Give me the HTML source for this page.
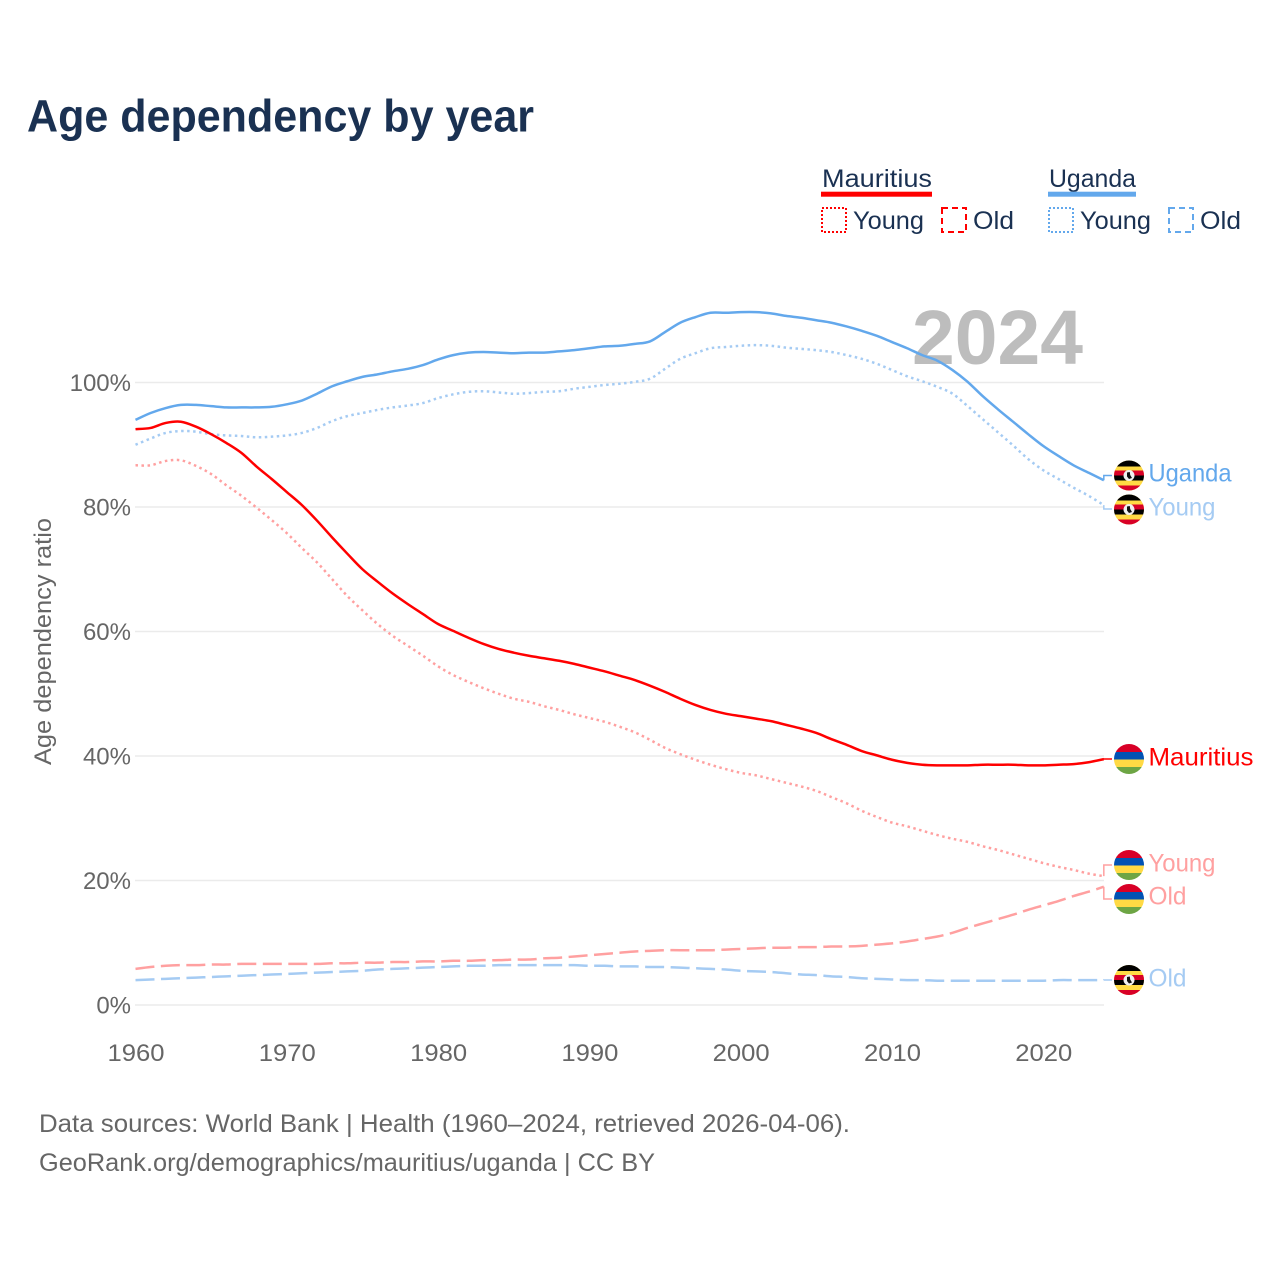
<!DOCTYPE html>
<html lang="en">
<head>
<meta charset="utf-8">
<title>Age dependency by year</title>
<style>
html,body{margin:0;padding:0;background:#fff;}
svg{display:block;font-family:"Liberation Sans",sans-serif;}
</style>
</head>
<body>
<svg id="chart" xmlns="http://www.w3.org/2000/svg" width="1280" height="1280" viewBox="0 0 1280 1280">
<defs>
  <clipPath id="flag-clip"><circle cx="0" cy="0" r="15"/></clipPath>
  <g id="flag-uganda" clip-path="url(#flag-clip)">
    <rect x="-15" y="-15" width="30" height="30" fill="#ffda44"/>
    <rect x="-15" y="-15" width="30" height="6" fill="#000"/>
    <rect x="-15" y="-5" width="30" height="5" fill="#d80027"/>
    <rect x="-15" y="0" width="30" height="5" fill="#000"/>
    <rect x="-15" y="10" width="30" height="5" fill="#d80027"/>
    <circle cx="0" cy="0" r="5.5" fill="#f0f0f0"/>
    <path d="M-2-3 L0.8-3.500 L1.200-0.500 L3 2.500 L0 3.500 L-2 1 Z" fill="#111"/>
  </g>
  <g id="flag-mauritius" clip-path="url(#flag-clip)">
    <rect x="-15" y="-15" width="30" height="8" fill="#d80027"/>
    <rect x="-15" y="-7" width="30" height="7.5" fill="#0052b4"/>
    <rect x="-15" y="0.5" width="30" height="7.5" fill="#ffda44"/>
    <rect x="-15" y="8" width="30" height="7" fill="#6da544"/>
  </g>
</defs>

<text x="27" y="131.500" font-size="45" font-weight="700" fill="#1a3152" textLength="507" lengthAdjust="spacingAndGlyphs">Age dependency by year</text>

<g font-size="25" fill="#1a3152">
  <g>
    <text x="822" y="187" textLength="110" lengthAdjust="spacingAndGlyphs">Mauritius</text>
    <rect x="821" y="191.700" width="111" height="5" fill="#ff0000"/>
    <rect x="822" y="208" width="24" height="24" fill="none" stroke="#ff0000" stroke-width="2" stroke-dasharray="2 2"/>
    <text x="853" y="229" textLength="71" lengthAdjust="spacingAndGlyphs">Young</text>
    <rect x="942" y="208" width="24" height="24" fill="none" stroke="#ff0000" stroke-width="2" stroke-dasharray="6 4"/>
    <text x="973" y="229" textLength="41" lengthAdjust="spacingAndGlyphs">Old</text>
  </g>
  <g>
    <text x="1049" y="187" textLength="87" lengthAdjust="spacingAndGlyphs">Uganda</text>
    <rect x="1048" y="191.700" width="88" height="5" fill="#63a8ec"/>
    <rect x="1049" y="208" width="24" height="24" fill="none" stroke="#63a8ec" stroke-width="2" stroke-dasharray="2 2"/>
    <text x="1080" y="229" textLength="71" lengthAdjust="spacingAndGlyphs">Young</text>
    <rect x="1169" y="208" width="24" height="24" fill="none" stroke="#63a8ec" stroke-width="2" stroke-dasharray="6 4"/>
    <text x="1200" y="229" textLength="41" lengthAdjust="spacingAndGlyphs">Old</text>
  </g>
</g>

<g id="grid"></g>
<text x="912" y="364" font-size="77" font-weight="700" fill="#bdbdbd" textLength="171" lengthAdjust="spacingAndGlyphs">2024</text>
<g id="y-ticks" font-size="24" fill="#666" text-anchor="end"></g>
<g id="x-ticks" font-size="24" fill="#666" text-anchor="middle"></g>
<text transform="translate(51 765) rotate(-90)" font-size="24" fill="#666" textLength="247" lengthAdjust="spacingAndGlyphs">Age dependency ratio</text>
<g id="series"></g>

<g font-size="25">
  <g>
    <use href="#flag-uganda" transform="translate(1129 475.500)"/>
    <text x="1148.500" y="481.500" fill="#63a8ec" textLength="83" lengthAdjust="spacingAndGlyphs">Uganda</text>
  </g>
  <g>
    <use href="#flag-uganda" transform="translate(1129 509.500)"/>
    <text x="1148.500" y="515.500" fill="#a5cbf3" textLength="67" lengthAdjust="spacingAndGlyphs">Young</text>
  </g>
  <g>
    <use href="#flag-mauritius" transform="translate(1129 759)"/>
    <text x="1148.500" y="765.500" fill="#ff0000" textLength="105" lengthAdjust="spacingAndGlyphs">Mauritius</text>
  </g>
  <g>
    <use href="#flag-mauritius" transform="translate(1129 865)"/>
    <text x="1148.500" y="871.500" fill="#ffa0a0" textLength="67" lengthAdjust="spacingAndGlyphs">Young</text>
  </g>
  <g>
    <use href="#flag-mauritius" transform="translate(1129 899)"/>
    <text x="1148.500" y="904.500" fill="#ffa0a0" textLength="38" lengthAdjust="spacingAndGlyphs">Old</text>
  </g>
  <g>
    <use href="#flag-uganda" transform="translate(1129 980)"/>
    <text x="1148.500" y="986.500" fill="#a5cbf3" textLength="38" lengthAdjust="spacingAndGlyphs">Old</text>
  </g>
</g>

<g font-size="25" fill="#666">
  <text x="39" y="1132" textLength="811" lengthAdjust="spacingAndGlyphs">Data sources: World Bank | Health (1960–2024, retrieved 2026-04-06).</text>
  <text x="39" y="1171" textLength="616" lengthAdjust="spacingAndGlyphs">GeoRank.org/demographics/mauritius/uganda | CC BY</text>
</g>
</svg>

<script>
const firstYear = 1960;
const yearTicks = [1960, 1970, 1980, 1990, 2000, 2010, 2020];
const percentTicks = [0, 20, 40, 60, 80, 100];

const ugandaTotal = [
  94.0, 95.1, 95.9, 96.4, 96.4, 96.2, 96.0, 96.0, 96.0, 96.1,
  96.5, 97.1, 98.2, 99.4, 100.2, 100.9, 101.3, 101.8, 102.2, 102.8,
  103.7, 104.4, 104.8, 104.9, 104.8, 104.7, 104.8, 104.8, 105.0, 105.2,
  105.5, 105.8, 105.9, 106.2, 106.6, 108.1, 109.6, 110.5, 111.2, 111.2,
  111.3, 111.3, 111.1, 110.7, 110.4, 110.0, 109.6, 109.0, 108.3, 107.5,
  106.5, 105.5, 104.4, 103.5, 102.0, 100.1, 97.8, 95.7, 93.7, 91.7,
  89.8, 88.2, 86.7, 85.5, 84.3
];
const ugandaYoung = [
  90.0, 91.0, 91.9, 92.2, 92.1, 91.7, 91.5, 91.4, 91.2, 91.3,
  91.5, 91.9, 92.7, 93.8, 94.6, 95.1, 95.6, 96.0, 96.3, 96.7,
  97.5, 98.1, 98.5, 98.6, 98.4, 98.2, 98.3, 98.5, 98.6, 99.0,
  99.3, 99.6, 99.8, 100.1, 100.6, 102.2, 103.8, 104.7, 105.5, 105.7,
  105.9, 106.0, 105.9, 105.6, 105.4, 105.2, 104.9, 104.4, 103.8, 103.0,
  102.0, 101.0, 100.2, 99.3, 98.2, 96.2, 94.1, 92.0, 89.9, 87.7,
  85.9, 84.5, 83.1, 81.8, 80.3
];
const ugandaOld = [
  4.0, 4.1, 4.2, 4.3, 4.4, 4.5, 4.6, 4.7, 4.8, 4.9,
  5.0, 5.1, 5.2, 5.3, 5.4, 5.5, 5.7, 5.8, 5.9, 6.0,
  6.1, 6.2, 6.3, 6.3, 6.4, 6.4, 6.4, 6.4, 6.4, 6.4,
  6.3, 6.3, 6.2, 6.2, 6.1, 6.1, 6.0, 5.9, 5.8, 5.7,
  5.5, 5.4, 5.3, 5.1, 4.9, 4.8, 4.6, 4.5, 4.3, 4.2,
  4.1, 4.0, 4.0, 3.9, 3.9, 3.9, 3.9, 3.9, 3.9, 3.9,
  3.9, 4.0, 4.0, 4.0, 4.0
];
const mauritiusTotal = [
  92.5, 92.7, 93.5, 93.7, 92.9, 91.7, 90.3, 88.7, 86.5, 84.5,
  82.4, 80.3, 77.8, 75.1, 72.5, 70.0, 68.0, 66.1, 64.4, 62.8,
  61.2, 60.1, 59.0, 58.0, 57.2, 56.6, 56.1, 55.7, 55.3, 54.8,
  54.2, 53.6, 52.9, 52.2, 51.3, 50.3, 49.2, 48.2, 47.4, 46.8,
  46.4, 46.0, 45.6, 45.0, 44.4, 43.7, 42.7, 41.8, 40.8, 40.1,
  39.4, 38.9, 38.6, 38.5, 38.5, 38.5, 38.6, 38.6, 38.6, 38.5,
  38.5, 38.6, 38.7, 39.0, 39.5
];
const mauritiusYoung = [
  86.7, 86.7, 87.4, 87.5, 86.6, 85.3, 83.5, 81.8, 79.9, 77.9,
  75.8, 73.4, 71.1, 68.4, 65.7, 63.4, 61.2, 59.3, 57.7, 56.1,
  54.4, 53.0, 51.9, 50.9, 50.0, 49.2, 48.7, 48.0, 47.4, 46.7,
  46.1, 45.5, 44.7, 43.8, 42.6, 41.3, 40.3, 39.4, 38.6, 37.9,
  37.3, 36.9, 36.3, 35.7, 35.1, 34.4, 33.4, 32.4, 31.2, 30.2,
  29.3, 28.7, 28.0, 27.3, 26.7, 26.2, 25.5, 24.9, 24.2, 23.5,
  22.8, 22.2, 21.7, 21.1, 20.7
];
const mauritiusOld = [
  5.8, 6.1, 6.3, 6.4, 6.4, 6.5, 6.5, 6.6, 6.6, 6.6,
  6.6, 6.6, 6.6, 6.7, 6.7, 6.8, 6.8, 6.9, 6.9, 7.0,
  7.0, 7.1, 7.1, 7.2, 7.2, 7.3, 7.3, 7.5, 7.6, 7.8,
  8.0, 8.2, 8.4, 8.6, 8.7, 8.8, 8.8, 8.8, 8.8, 8.9,
  9.0, 9.1, 9.2, 9.2, 9.3, 9.3, 9.4, 9.4, 9.5, 9.7,
  9.9, 10.2, 10.6, 11.0, 11.6, 12.4, 13.1, 13.8, 14.5, 15.3,
  16.0, 16.7, 17.5, 18.2, 19.0
];

const SVG_NS = 'http://www.w3.org/2000/svg';
const xScale = function (year) { return 135.5 + (year - 1960) * 15.13; };
const yScale = function (pct) { return 1005 - pct * 6.225; };

function pathFrom(values) {
  const pts = values.map(function (v, i) { return [xScale(firstYear + i), yScale(v)]; });
  let d = 'M' + pts[0][0].toFixed(2) + ' ' + pts[0][1].toFixed(2);
  for (let i = 0; i < pts.length - 1; i++) {
    const p0 = pts[Math.max(i - 1, 0)];
    const p1 = pts[i];
    const p2 = pts[i + 1];
    const p3 = pts[Math.min(i + 2, pts.length - 1)];
    d += ' C' + (p1[0] + (p2[0] - p0[0]) / 6).toFixed(2) + ' ' + (p1[1] + (p2[1] - p0[1]) / 6).toFixed(2) +
         ' ' + (p2[0] - (p3[0] - p1[0]) / 6).toFixed(2) + ' ' + (p2[1] - (p3[1] - p1[1]) / 6).toFixed(2) +
         ' ' + p2[0].toFixed(2) + ' ' + p2[1].toFixed(2);
  }
  return d;
}

function drawLine(values, name, color, width, dash) {
  const el = document.createElementNS(SVG_NS, 'path');
  
  
  el.setAttribute('d', pathFrom(values));
  el.setAttribute('fill', 'none');
  el.setAttribute('stroke', color);
  el.setAttribute('stroke-width', width);
  el.setAttribute('stroke-linejoin', 'round');
  if (dash) el.setAttribute('stroke-dasharray', dash);
  document.getElementById('series').appendChild(el);
}

function drawConnector(values, name, color, flagY) {
  const last = values[values.length - 1];
  const x = xScale(firstYear + values.length - 1);
  const el = document.createElementNS(SVG_NS, 'path');
  
  
  el.setAttribute('d', 'M' + x + ' ' + yScale(last) + ' L' + x + ' ' + flagY + ' L1112 ' + flagY);
  el.setAttribute('fill', 'none');
  el.setAttribute('stroke', color);
  el.setAttribute('stroke-width', '1.500');
  document.getElementById('series').appendChild(el);
}

percentTicks.forEach(function (p) {
  const line = document.createElementNS(SVG_NS, 'line');
  
  
  line.setAttribute('x1', 135);
  line.setAttribute('x2', 1104);
  line.setAttribute('y1', yScale(p));
  line.setAttribute('y2', yScale(p));
  line.setAttribute('stroke', '#ebebeb');
  line.setAttribute('stroke-width', '1.500');
  document.getElementById('grid').appendChild(line);

  const label = document.createElementNS(SVG_NS, 'text');
  
  
  label.setAttribute('x', 131);
  label.setAttribute('y', yScale(p) + 8.5);
  label.textContent = p + '%';
  document.getElementById('y-ticks').appendChild(label);
});

yearTicks.forEach(function (year) {
  const label = document.createElementNS(SVG_NS, 'text');
  
  
  label.setAttribute('x', xScale(year) + 0.5);
  label.setAttribute('y', 1061);
  label.setAttribute('textLength', 57);
  label.setAttribute('lengthAdjust', 'spacingAndGlyphs');
  label.textContent = year;
  document.getElementById('x-ticks').appendChild(label);
});

drawConnector(ugandaOld, 'uganda-old-connector', '#a5cbf3', 980);
drawConnector(ugandaYoung, 'uganda-young-connector', '#a5cbf3', 509);
drawConnector(ugandaTotal, 'uganda-total-connector', '#63a8ec', 475.5);
drawConnector(mauritiusOld, 'mauritius-old-connector', '#ffa0a0', 899);
drawConnector(mauritiusYoung, 'mauritius-young-connector', '#ffa0a0', 865);
drawConnector(mauritiusTotal, 'mauritius-total-connector', '#ff0000', 759);

drawLine(ugandaOld, 'uganda-old-line', '#a5cbf3', 2.5, '19 6.500');
drawLine(mauritiusOld, 'mauritius-old-line', '#ffa0a0', 2.5, '19 6.500');
drawLine(ugandaYoung, 'uganda-young-line', '#a5cbf3', 2.5, '2.500 3.500');
drawLine(mauritiusYoung, 'mauritius-young-line', '#ffa0a0', 2.5, '2.500 3.500');
drawLine(ugandaTotal, 'uganda-total-line', '#63a8ec', 2.5);
drawLine(mauritiusTotal, 'mauritius-total-line', '#ff0000', 2.5);
</script>
</body>
</html>
